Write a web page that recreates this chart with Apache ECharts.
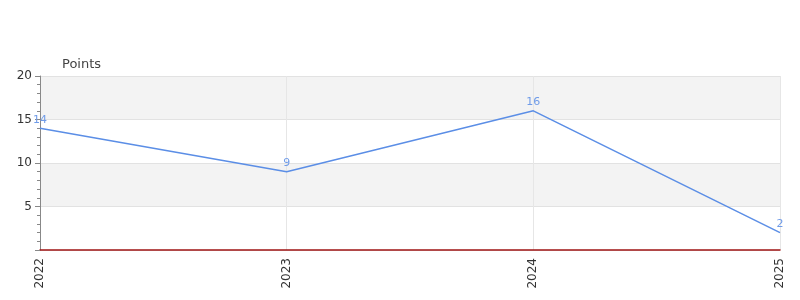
<!DOCTYPE html>
<html><head><meta charset="utf-8">
<script src="https://cdn.jsdelivr.net/npm/echarts@6/dist/echarts.min.js"></script>
<style>html,body{margin:0;padding:0;background:#fff}#c{width:800px;height:300px}</style>
</head><body><div id="c"></div>
<script>
const categories = ['2022', '2023', '2024', '2025'];
const points = [14, 9, 16, 2];
const yTicks = [0, 5, 10, 15, 20];

const chart = echarts.init(document.getElementById('c'));
chart.setOption({
  animation: false,
  textStyle: { fontFamily: 'DejaVu Sans' },
  grid: { left: 40, right: 20, top: 76, bottom: 50, containLabel: false },
  xAxis: {
    type: 'category',
    data: categories,
    boundaryGap: false,
    axisLine: { lineStyle: { color: '#a01515', width: 1.5 } },
    axisTick: { show: false },
    axisLabel: { rotate: 90, color: '#333', fontSize: 12, margin: 8 },
    splitLine: { show: true, lineStyle: { color: '#e6e6e6' } }
  },
  yAxis: {
    type: 'value',
    min: yTicks[0], max: yTicks[yTicks.length - 1], interval: 5,
    name: 'Points',
    nameLocation: 'end',
    nameGap: 5,
    nameTextStyle: { color: '#444', fontSize: 13, align: 'left', padding: [0, 0, 0, 22] },
    axisLine: { show: true, lineStyle: { color: '#888' } },
    axisTick: { show: true, length: 5, lineStyle: { color: '#888' } },
    minorTick: { show: true, splitNumber: 5, length: 3, lineStyle: { color: '#888' } },
    axisLabel: { color: '#333', fontSize: 12, margin: 8,
      formatter: v => v === 0 ? '' : String(v) },
    splitLine: { show: true, lineStyle: { color: '#e2e2e2' } },
    splitArea: { show: true, areaStyle: { color: ['#ffffff', '#f3f3f3'] } }
  },
  series: [{
    type: 'line',
    data: points,
    symbol: 'circle',
    symbolSize: 0,
    showSymbol: true,
    lineStyle: { color: '#5b8ee6', width: 1.5 },
    itemStyle: { color: '#5b8ee6' },
    label: { show: true, position: 'top', color: '#6f9be8', fontSize: 11, distance: 3 }
  }]
});
</script></body></html>
